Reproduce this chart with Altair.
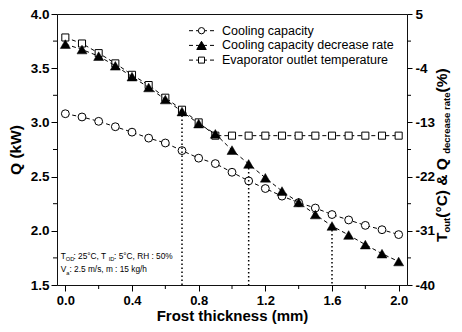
import altair as alt
import pandas as pd

# ---------------- data ----------------
thickness = [0.0, 0.1, 0.2, 0.3, 0.4, 0.5, 0.6, 0.7, 0.8, 0.9, 1.0,
             1.1, 1.2, 1.3, 1.4, 1.5, 1.6, 1.7, 1.8, 1.9, 2.0]
cooling_capacity = [3.08, 3.05, 3.01, 2.96, 2.91, 2.855, 2.81, 2.74, 2.67, 2.62, 2.54,
                    2.46, 2.39, 2.32, 2.26, 2.21, 2.15, 2.10, 2.05, 2.01, 1.965]
decrease_rate = [0.0, -0.9, -2.0, -3.6, -5.4, -7.2, -9.2, -11.2, -13.2, -14.9, -17.6,
                 -19.9, -22.2, -24.4, -26.3, -28.3, -30.2, -31.7, -33.3, -34.8, -36.1]
outlet_temp = [1.1, 0.1, -1.5, -3.2, -5.1, -6.8, -8.9, -10.9, -13.0, -15.2, -15.2,
               -15.2, -15.2, -15.2, -15.2, -15.2, -15.2, -15.2, -15.2, -15.2, -15.2]
marker_thickness = [0.7, 1.1, 1.6]
marker_rate = [-11.2, -19.9, -30.2]

x_ticks = [0.0, 0.4, 0.8, 1.2, 1.6, 2.0]
x_minor = [0.2, 0.6, 1.0, 1.4, 1.8]
q_ticks = [1.5, 2.0, 2.5, 3.0, 3.5, 4.0]
q_minor = [1.75, 2.25, 2.75, 3.25, 3.75]
r_ticks = [5, -4, -13, -22, -31, -40]
r_minor = [0.5, -8.5, -17.5, -26.5, -35.5]

legend_labels = ["Cooling capacity", "Cooling capacity decrease rate",
                 "Evaporator outlet temperature"]

# ---------------- layout / style ----------------
W, H = 350, 271
FONT = "Liberation Sans"
BLACK = "#000000"
X_DOMAIN = [-0.05, 2.05]
Q_DOMAIN = [1.5, 4.0]
R_DOMAIN = [-40, 5]

df_q = pd.DataFrame({"t": thickness, "q": cooling_capacity})
df_rate = pd.DataFrame({"t": thickness, "r": decrease_rate})
df_temp = pd.DataFrame({"t": thickness, "r": outlet_temp})
df_mark = pd.DataFrame({"t": marker_thickness, "r": marker_rate})

x_axis = alt.Axis(values=x_ticks, format=".1f", title="Frost thickness (mm)",
                  tickSize=6, tickColor=BLACK, labelPadding=3, domain=False, grid=False,
                  labelFont=FONT, labelFontSize=13, labelFontWeight="bold", labelColor=BLACK,
                  titleFont=FONT, titleFontSize=15, titleFontWeight="bold", titleColor=BLACK,
                  titlePadding=1.5)
q_axis = alt.Axis(values=q_ticks, format=".1f", title="Q (kW)", orient="left",
                  tickSize=6, tickColor=BLACK, labelPadding=2, domain=False, grid=False,
                  labelFont=FONT, labelFontSize=13.5, labelFontWeight="bold", labelColor=BLACK,
                  titleFont=FONT, titleFontSize=15.5, titleFontWeight="bold", titleColor=BLACK,
                  titlePadding=7)
r_axis = alt.Axis(values=r_ticks, labelExpr="'' + datum.value", title="", orient="right",
                  tickSize=5, tickColor=BLACK, labelPadding=3, domain=False, grid=False,
                  labelFont=FONT, labelFontSize=13.5, labelFontWeight="bold", labelColor=BLACK)


def X():
    return alt.X("t:Q", scale=alt.Scale(domain=X_DOMAIN, nice=False, zero=False), axis=x_axis)


def YQ():
    return alt.Y("q:Q", scale=alt.Scale(domain=Q_DOMAIN, nice=False, zero=False), axis=q_axis)


def YR():
    return alt.Y("r:Q", scale=alt.Scale(domain=R_DOMAIN, nice=False, zero=False), axis=r_axis)


dash = [4, 3]

# ---------------- left (Q) group ----------------
q_line = alt.Chart(df_q).mark_line(color=BLACK, strokeWidth=1, strokeDash=dash).encode(x=X(), y=YQ())
q_pts = alt.Chart(df_q).mark_point(shape="circle", filled=True, fill="white", stroke=BLACK,
                                   strokeWidth=1, size=62, opacity=1).encode(x=X(), y=YQ())

q_minor_ticks = alt.Chart(pd.DataFrame({"q": q_minor})).mark_rule(color=BLACK, strokeWidth=1).encode(
    x=alt.value(-4), x2=alt.value(0), y=YQ())
x_minor_ticks = alt.Chart(pd.DataFrame({"t": x_minor})).mark_rule(color=BLACK, strokeWidth=1).encode(
    x=X(), y=alt.value(H), y2=alt.value(H + 4))

# condition annotation (two lines with subscripts)
ann_x = -0.028
ann_rows = [
    (1.762, [("T", 0, 8.3, 0), ("OD", 5.1, 5.7, 2.5), (" : 25°C, T", 12.8, 8.3, 0),
             ("ID", 48.0, 5.7, 2.5), (" : 5°C, RH : 50%", 53.4, 8.3, 0)]),
    (1.638, [("V", 0, 8.3, 0), ("a", 5.5, 5.7, 2.5), (" : 2.5 m/s, m : 15 kg/h", 8.8, 8.3, 0)]),
]
ann_layers = []
for yq, segs in ann_rows:
    for txt, dx, fs, dy in segs:
        ann_layers.append(
            alt.Chart(pd.DataFrame({"t": [ann_x], "q": [yq], "s": [txt]})).mark_text(
                align="left", baseline="middle", font=FONT, fontSize=fs, dx=dx, dy=dy,
                color=BLACK).encode(x=X(), y=YQ(), text="s:N"))

left = alt.layer(q_line, q_pts, q_minor_ticks, x_minor_ticks, *ann_layers)

# ---------------- right (rate / temperature) group ----------------
temp_line = alt.Chart(df_temp).mark_line(color=BLACK, strokeWidth=1, strokeDash=dash).encode(x=X(), y=YR())
temp_pts = alt.Chart(df_temp).mark_point(shape="square", filled=True, fill="white", stroke=BLACK,
                                         strokeWidth=1, size=50, opacity=1).encode(x=X(), y=YR())
rate_line = alt.Chart(df_rate).mark_line(color=BLACK, strokeWidth=1, strokeDash=dash).encode(x=X(), y=YR())
rate_pts = alt.Chart(df_rate).mark_point(shape="triangle-up", filled=True, fill=BLACK, stroke=BLACK,
                                         strokeWidth=0.5, size=100, opacity=1).encode(x=X(), y=YR())
drop_lines = alt.Chart(df_mark).mark_rule(color=BLACK, strokeWidth=1.5, strokeDash=[1.5, 2.5]).encode(
    x=X(), y=YR(), y2=alt.Y2Datum(R_DOMAIN[0]))
r_minor_ticks = alt.Chart(pd.DataFrame({"r": r_minor})).mark_rule(color=BLACK, strokeWidth=1).encode(
    x=alt.value(W), x2=alt.value(W + 4), y=YR())

# legend (drawn by hand)
leg_layers = []
leg_styles = [
    dict(shape="circle", fill="white", size=40),
    dict(shape="triangle-up", fill=BLACK, size=90),
    dict(shape="square", fill="white", size=36),
]
for i, (lab, st) in enumerate(zip(legend_labels, leg_styles)):
    yy = 16.7 + i * 14.7
    d = pd.DataFrame({"s": [lab]})
    leg_layers.append(alt.Chart(d).mark_rule(color=BLACK, strokeWidth=1, strokeDash=dash).encode(
        x=alt.value(132), x2=alt.value(159), y=alt.value(yy)))
    leg_layers.append(alt.Chart(d).mark_point(shape=st["shape"], filled=True, fill=st["fill"],
                                              stroke=BLACK, strokeWidth=1, size=st["size"],
                                              opacity=1).encode(x=alt.value(144.5), y=alt.value(yy)))
    leg_layers.append(alt.Chart(d).mark_text(align="left", baseline="middle", font=FONT,
                                             fontSize=12.5, color=BLACK).encode(
        x=alt.value(165), y=alt.value(yy), text="s:N"))

# right axis title with subscripts, rotated
rt_segs = [("T", 0, 15.5, 0), ("out", 9.5, 9.5, 3), (" (°C) & Q", 24.3, 15.5, 0),
           ("decrease rate", 88.2, 9.5, 3), (" (%)", 149.5, 15.5, 0)]
rt_layers = []
for txt, dx, fs, dy in rt_segs:
    rt_layers.append(alt.Chart(pd.DataFrame({"s": [txt]})).mark_text(
        align="left", baseline="alphabetic", angle=270, font=FONT, fontSize=fs,
        fontWeight="bold", dx=dx, dy=dy, color=BLACK).encode(
        x=alt.value(W + 40), y=alt.value(228), text="s:N"))

right = alt.layer(temp_line, temp_pts, rate_line, rate_pts, drop_lines, r_minor_ticks,
                  *leg_layers, *rt_layers)

chart = alt.layer(left, right).resolve_scale(y="independent").properties(
    width=W, height=H,
    autosize=alt.AutoSizeParams(type="none"),
    padding={"left": 49, "top": 6, "right": 47, "bottom": 39},
).configure_view(stroke="#111111", strokeWidth=1)

chart.save("out.html", embed_options={"renderer": "svg", "actions": False})
